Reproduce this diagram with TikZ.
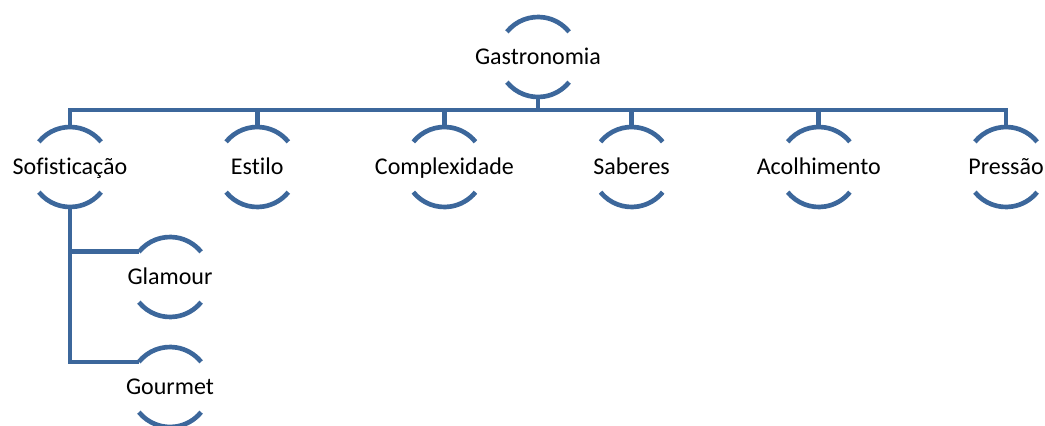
\documentclass[tikz,border=0pt]{standalone}
\usepackage{fontspec}
\setmainfont{Carlito}[Ligatures=NoCommon]
\definecolor{ringblue}{RGB}{60,103,155}
\begin{document}
\begin{tikzpicture}[x=0.75pt,y=0.75pt,
  label/.style={inner sep=0pt,font=\fontsize{18}{21}\selectfont,
                text height=16.2pt,text depth=4.6pt},
  ring/.style={draw=ringblue,line width=3.5pt},
  link/.style={draw=ringblue,line width=3.5pt}]
\useasboundingbox (0,0) rectangle (1045,-425);
% labels
\node[label] (g)  at (538,-57)    {Gastronomia};
\node[label] (s1) at (70,-167)    {Sofisticação};
\node[label] (s2) at (257.2,-167) {Estilo};
\node[label] (s3) at (444.4,-167) {Complexidade};
\node[label] (s4) at (631.6,-167) {Saberes};
\node[label] (s5) at (818.8,-167) {Acolhimento};
\node[label] (s6) at (1006,-167)  {Pressão};
\node[label] (t1) at (170,-277)   {Glamour};
\node[label] (t2) at (170,-387)   {Gourmet};
% open rings around every label
\foreach \n in {g,s1,s2,s3,s4,s5,s6,t1,t2}{
  \draw[ring] ([shift={(141:40)}]\n.center) arc[start angle=141,end angle=39,radius=40];
  \draw[ring] ([shift={(-141:40)}]\n.center) arc[start angle=-141,end angle=-39,radius=40];
}
% tree connectors
\coordinate (bar) at (538,-110);
\draw[link] ([yshift=-30pt]g.center) -- (bar);
\draw[link] ([yshift=30pt]s1.center) |- (bar) -| ([yshift=30pt]s6.center);
\foreach \n in {s2,s3,s4,s5}{
  \draw[link] (bar -| \n.center) -- ([yshift=30pt]\n.center);
}
\draw[link] ([yshift=-30pt]s1.center) |- ([shift={(141:40)}]t1.center);
\draw[link] ([yshift=-30pt]s1.center) |- ([shift={(141:40)}]t2.center);
\end{tikzpicture}
\end{document}
